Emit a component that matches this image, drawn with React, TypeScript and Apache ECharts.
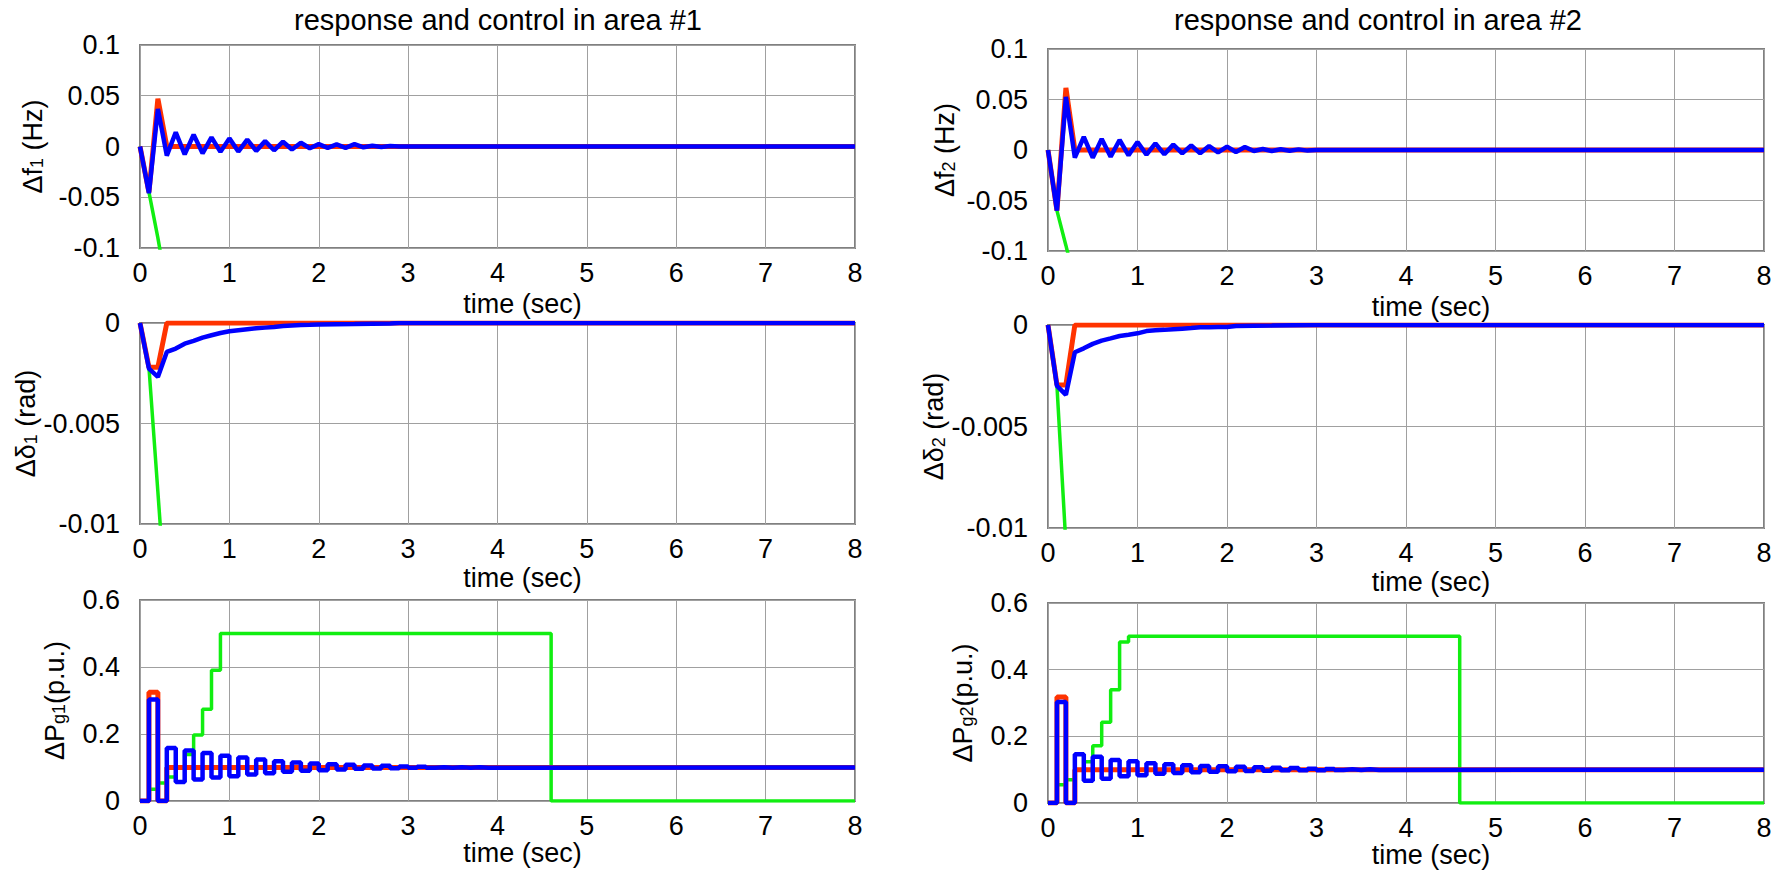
import React, { useEffect, useRef } from "react";
import * as echarts from "echarts";

const FONT = '"Liberation Sans", Arial, Helvetica, sans-serif';
const DT = 0.1;

const RED = "#ff3300";
const GREEN = "#11ee11";
const BLUE = "#0000ff";

const titles = ["response and control in area #1", "response and control in area #2"];
const xTicks = [0, 1, 2, 3, 4, 5, 6, 7, 8];

// ---- Δf1 (Hz), area 1 (sampled every 0.1 s) ----
const f1Blue = [0, -0.046, 0.037, -0.009, 0.014, -0.0077, 0.0117, -0.0067, 0.009, -0.0053, 0.008, -0.005, 0.0067, -0.0043, 0.0053, -0.0037, 0.0047, -0.003, 0.0037, -0.0017, 0.0023, -0.0013, 0.002, -0.0013, 0.0023, -0.0008, 0.0008, -0.0005, 0.0005, 0];
const f1BlueTail: [number, number][] = [[8, 0]];
const f1Red = [0, -0.045, 0.047, 0];
const f1RedTail: [number, number][] = [[8, 0]];
const f1Green = [0, -0.045, -0.09, -0.14];

// ---- Δf2 (Hz), area 2 ----
const f2Blue = [0, -0.06, 0.0526, -0.0076, 0.013, -0.0076, 0.011, -0.0066, 0.0099, -0.0053, 0.0079, -0.0046, 0.0066, -0.0043, 0.0053, -0.0033, 0.0046, -0.0033, 0.004, -0.0023, 0.0033, -0.002, 0.003, -0.001, 0.001, -0.001, 0.0008, -0.0008, 0.0006, -0.0006, 0];
const f2BlueTail: [number, number][] = [[8, 0]];
const f2Red = [0, -0.06, 0.0615, 0];
const f2RedTail: [number, number][] = [[8, 0]];
const f2Green = [0, -0.06, -0.0945, -0.13];

// ---- Δδ1 (rad) ----
const d1Blue = [0, -0.00227, -0.00268, -0.00144, -0.00127, -0.00103, -0.00089, -0.00073, -0.00061, -0.0005, -0.00041, -0.00036, -0.00031, -0.00026, -0.00023, -0.0002, -0.00015, -0.00012, -0.0001, -0.00009, -0.00007];
const d1BlueTail: [number, number][] = [[2.4, -0.00005], [2.8, -0.00002], [2.9, 0], [8, 0]];
const d1Red = [0, -0.0022, -0.0022, 0];
const d1RedTail: [number, number][] = [[8, 0]];
const d1Green = [0, -0.0022, -0.0084, -0.0146];

// ---- Δδ2 (rad) ----
const d2Blue = [0, -0.003, -0.00344, -0.00134, -0.00115, -0.00093, -0.00077, -0.00066, -0.00054, -0.00048, -0.00041, -0.0003, -0.00026, -0.00024, -0.00021, -0.00018, -0.00015, -0.00011, -0.00011, -0.0001, -0.0001, -0.00005];
const d2BlueTail: [number, number][] = [[2.5, -0.00003], [3.0, 0], [8, 0]];
const d2Red = [0, -0.00295, -0.00295, 0];
const d2RedTail: [number, number][] = [[8, 0]];
const d2Green = [0, -0.003, -0.0108];

// ---- ΔPg1 (p.u.), zero-order hold every 0.1 s ----
const p1Blue = [0, 0.303, 0, 0.158, 0.057, 0.151, 0.064, 0.143, 0.07, 0.135, 0.074, 0.13, 0.079, 0.124, 0.083, 0.119, 0.087, 0.115, 0.09, 0.112, 0.092, 0.11, 0.094, 0.108, 0.096, 0.106, 0.097, 0.105, 0.098, 0.103, 0.099, 0.102, 0.099, 0.101, 0.099, 0.101, 0.099, 0.101, 0.099, 0.1];
const p1BlueTail: [number, number][] = [[8, 0.1]];
const p1Red = [0, 0.325, 0, 0.1];
const p1RedTail: [number, number][] = [[8, 0.1]];
const p1Green = [0, 0.035, 0.054, 0.072, 0.1, 0.139, 0.197, 0.274, 0.39, 0.5];
const p1GreenTail: [number, number][] = [[4.6, 0], [8, 0]];

// ---- ΔPg2 (p.u.) ----
const p2Blue = [0, 0.303, 0, 0.146, 0.067, 0.139, 0.073, 0.129, 0.08, 0.125, 0.083, 0.119, 0.088, 0.116, 0.09, 0.113, 0.092, 0.111, 0.094, 0.11, 0.095, 0.109, 0.096, 0.107, 0.097, 0.106, 0.098, 0.105, 0.098, 0.103, 0.098, 0.102, 0.099, 0.101, 0.099, 0.101, 0.099, 0.1];
const p2BlueTail: [number, number][] = [[8, 0.1]];
const p2Red = [0, 0.318, 0, 0.1];
const p2RedTail: [number, number][] = [[8, 0.1]];
const p2Green = [0, 0.055, 0.07, 0.1, 0.124, 0.172, 0.242, 0.34, 0.483, 0.5];
const p2GreenTail: [number, number][] = [[4.6, 0], [8, 0]];

function sampled(values: number[], tail: [number, number][] = []) {
  const pts: number[][] = values.map((v, i) => [Math.round(i * DT * 100) / 100, v]);
  return pts.concat(tail);
}

type Panel = {
  grid: { left: number; top: number; width: number; height: number };
  min: number;
  max: number;
  interval: number;
  name: string;
  nameGap: number;
  step: boolean;
  green: number[][];
  red: number[][];
  blue: number[][];
};

const panels: Panel[] = [
  { grid: { left: 140, top: 45, width: 715, height: 203 }, min: -0.1, max: 0.1, interval: 0.05, name: "{d|Δf}{s|1}{d| (Hz)}", nameGap: 94, step: false, green: sampled(f1Green), red: sampled(f1Red, f1RedTail), blue: sampled(f1Blue, f1BlueTail) },
  { grid: { left: 140, top: 323, width: 715, height: 201 }, min: -0.01, max: 0, interval: 0.005, name: "{d|Δδ}{s|1}{d| (rad)}", nameGap: 98, step: false, green: sampled(d1Green), red: sampled(d1Red, d1RedTail), blue: sampled(d1Blue, d1BlueTail) },
  { grid: { left: 140, top: 600, width: 715, height: 201 }, min: 0, max: 0.6, interval: 0.2, name: "{d|ΔP}{s|g1}{d|(p.u.)}", nameGap: 72, step: true, green: sampled(p1Green, p1GreenTail), red: sampled(p1Red, p1RedTail), blue: sampled(p1Blue, p1BlueTail) },
  { grid: { left: 1048, top: 49, width: 716, height: 202 }, min: -0.1, max: 0.1, interval: 0.05, name: "{d|Δf}{s|2}{d| (Hz)}", nameGap: 90, step: false, green: sampled(f2Green), red: sampled(f2Red, f2RedTail), blue: sampled(f2Blue, f2BlueTail) },
  { grid: { left: 1048, top: 325, width: 716, height: 203 }, min: -0.01, max: 0, interval: 0.005, name: "{d|Δδ}{s|2}{d| (rad)}", nameGap: 96, step: false, green: sampled(d2Green), red: sampled(d2Red, d2RedTail), blue: sampled(d2Blue, d2BlueTail) },
  { grid: { left: 1048, top: 603, width: 716, height: 200 }, min: 0, max: 0.6, interval: 0.2, name: "{d|ΔP}{s|g2}{d|(p.u.)}", nameGap: 72, step: true, green: sampled(p2Green, p2GreenTail), red: sampled(p2Red, p2RedTail), blue: sampled(p2Blue, p2BlueTail) },
];

const xNameGaps = [42, 40, 37, 42, 40, 37];

function fmt(v: number) {
  return String(parseFloat(Number(v).toPrecision(6)));
}

export default function App() {
  const ref = useRef<HTMLDivElement>(null);

  useEffect(() => {
    document.body.style.margin = "0";
    if (!ref.current) return;
    const chart = echarts.init(ref.current, undefined, { renderer: "svg" });

    const grid = panels.map((p) => ({
      ...p.grid,
      show: true,
      borderColor: "#808080",
      borderWidth: 2,
      backgroundColor: "#ffffff",
      containLabel: false,
    }));

    const xAxis = panels.map((p, i) => ({
      type: "value" as const,
      gridIndex: i,
      min: xTicks[0],
      max: xTicks[xTicks.length - 1],
      interval: 1,
      name: "time (sec)",
      nameLocation: "middle" as const,
      nameGap: xNameGaps[i],
      nameTextStyle: { fontFamily: FONT, fontSize: 27, color: "#000", padding: [0, 0, 0, 50] },
      axisLine: { show: false },
      axisTick: { show: false },
      axisLabel: { fontFamily: FONT, fontSize: 27, color: "#000", margin: 11, formatter: (v: number) => fmt(v) },
      splitLine: { show: true, lineStyle: { color: "#a0a0a0", width: 1 } },
    }));

    const yAxis = panels.map((p, i) => ({
      type: "value" as const,
      gridIndex: i,
      min: p.min,
      max: p.max,
      interval: p.interval,
      name: p.name,
      nameLocation: "middle" as const,
      nameRotate: 90,
      nameGap: p.nameGap,
      nameTextStyle: {
        color: "#000",
        rich: {
          d: { fontFamily: FONT, fontSize: 27, color: "#000" },
          s: { fontFamily: FONT, fontSize: 18, color: "#000", verticalAlign: "bottom" },
        },
      },
      axisLine: { show: false },
      axisTick: { show: false },
      axisLabel: { fontFamily: FONT, fontSize: 27, color: "#000", margin: 20, padding: [14, 0, 0, 0], formatter: (v: number) => fmt(v) },
      splitLine: { show: true, lineStyle: { color: "#a0a0a0", width: 1 } },
    }));

    const series: any[] = [];
    panels.forEach((p, i) => {
      const common = {
        type: "line",
        xAxisIndex: i,
        yAxisIndex: i,
        showSymbol: false,
        symbol: "none",
        clip: true,
        step: p.step ? "end" : false,
        emphasis: { disabled: true },
      };
      series.push({ ...common, name: "green" + i, data: p.green, lineStyle: { color: GREEN, width: 3.5 }, z: 2 });
      series.push({ ...common, name: "red" + i, data: p.red, lineStyle: { color: RED, width: 5 }, z: 3 });
      series.push({ ...common, name: "blue" + i, data: p.blue, lineStyle: { color: BLUE, width: 4.5 }, z: 4 });
    });

    chart.setOption({
      animation: false,
      backgroundColor: "#ffffff",
      grid,
      xAxis,
      yAxis,
      series,
      graphic: [
        { type: "text", x: 498, y: 20, style: { text: titles[0], font: `29px ${FONT}`, fill: "#000", textAlign: "center", textVerticalAlign: "middle" } },
        { type: "text", x: 1378, y: 20, style: { text: titles[1], font: `29px ${FONT}`, fill: "#000", textAlign: "center", textVerticalAlign: "middle" } },
      ],
    });

    return () => chart.dispose();
  }, []);

  return <div ref={ref} style={{ width: 1791, height: 871 }} />;
}
